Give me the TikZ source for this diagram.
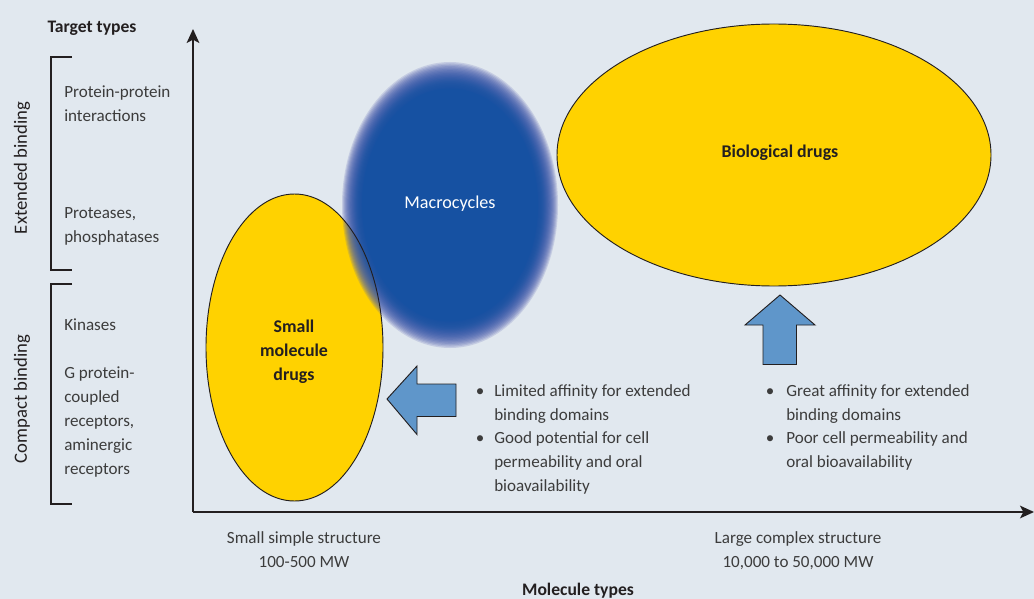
\documentclass[tikz,border=0pt]{standalone}
\usepackage{fontspec}
\setmainfont{Carlito}
\usetikzlibrary{arrows.meta}
\definecolor{bg}{HTML}{E1E8EF}
\definecolor{ylw}{HTML}{FFD200}
\definecolor{mblue}{HTML}{1651A2}
\definecolor{edgeblue}{HTML}{5560AE}
\definecolor{arrblue}{HTML}{5F96CA}
\definecolor{txt}{HTML}{3C3C3C}
\definecolor{ink}{HTML}{231F20}
\newcommand{\mlL}[1]{\begin{tabular}[t]{@{}l@{}}#1\end{tabular}}
\newcommand{\mlC}[1]{\begin{tabular}[t]{@{}c@{}}#1\end{tabular}}
\begin{document}
\begin{tikzpicture}[x=0.75pt,y=-0.75pt,
  lbl/.style={font=\fontsize{12.8}{18}\selectfont, text=txt, inner sep=0pt, anchor=base west},
  ctr/.style={font=\fontsize{12.8}{18}\selectfont, text=txt, inner sep=0pt, anchor=base},
  head/.style={font=\fontsize{13.2}{18}\selectfont\bfseries, text=ink, inner sep=0pt, anchor=base},
  side/.style={font=\fontsize{14}{18}\selectfont, text=ink, inner sep=0pt, rotate=90},
  inlbl/.style={font=\fontsize{13.4}{18}\selectfont\bfseries, text=ink, inner sep=0pt, anchor=base},
  axis/.style={draw=ink, line width=1.3pt, -{Stealth[length=10.5pt, width=9.5pt, inset=2.5pt]}},
  brk/.style={draw=ink, line width=0.95pt},
  outl/.style={draw=ink, line width=0.7pt},
  bigarrow/.style={fill=arrblue, draw=ink, line width=0.7pt, line join=miter}]
\fill[bg] (0,0) rectangle (1034,599);
\useasboundingbox (0,0) rectangle (1034,599);

% axes
\coordinate (O) at (193,512);
\coordinate (ytop) at (193,29);
\coordinate (xend) at (1034,512);
\draw[axis] (O) -- (ytop);
\draw[axis] (O) -- (xend);

% brackets
\draw[brk] (72,57) -- (51,57) -- (51,270) -- (72,270);
\draw[brk] (72,284) -- (51,284) -- (51,504) -- (72,504);

% headings
\node[head] (tt) at (92,33) {Target types};
\node[head] (mt) at (578,595) {Molecule types};
\node[side] (ext) at (22,168) {Extended binding};
\node[side] (cmp) at (22,399) {Compact binding};

% target type labels
\node[lbl] (ppi) at (64,98) {\mlL{Protein-protein\\interactions}};
\node[lbl] (prot) at (64,218) {\mlL{Proteases,\\phosphatases}};
\node[lbl] (kin) at (64,330) {Kinases};
\node[lbl] (gpcr) at (64,378) {\mlL{G protein-\\coupled\\receptors,\\aminergic\\receptors}};

% ellipses
\fill[ylw] (294.5,347.5) ellipse [x radius=88.5, y radius=153.5];
\foreach \i in {0,...,19}{
  \pgfmathsetmacro{\s}{1-\i*0.0095}
  \fill[edgeblue!\fpeval{max(0,100-8*\i)}!mblue, fill opacity=0.2] (450,205) ellipse [x radius=108*\s, y radius=143*\s];
}
\fill[mblue] (450,205) ellipse [x radius=108*0.815, y radius=143*0.815];
\draw[outl] (294.5,347.5) ellipse [x radius=88.5, y radius=153.5];
\draw[outl, fill=ylw] (774,155) ellipse [x radius=217, y radius=131];

\node[inlbl] (smd) at (294,332) {\mlC{Small\\molecule\\drugs}};
\node[font=\fontsize{13.6}{18}\selectfont, text=white, inner sep=0pt, anchor=base] (mac) at (450,208) {Macrocycles};
\node[inlbl] (bio) at (780,157) {Biological drugs};

% block arrows
\draw[bigarrow] (387,399) -- (417,366) -- (417,384) -- (456,384) -- (456,416.5) -- (417,416.5) -- (417,434.5) -- cycle;
\draw[bigarrow] (780,295) -- (815,325) -- (796.5,325) -- (796.5,364.5) -- (763,364.5) -- (763,325) -- (745,325) -- cycle;

% bullet lists
\node[lbl] (b1) at (475.5,396) {•};
\node[lbl] (l1) at (494,396) {\mlL{Limited affinity for extended\\binding domains}};
\node[lbl] (b2) at (475.5,443) {•};
\node[lbl] (l2) at (494,443) {\mlL{Good potential for cell\\permeability and oral\\bioavailability}};
\node[lbl] (b3) at (765.5,396) {•};
\node[lbl] (r1) at (786,396) {\mlL{Great affinity for extended\\binding domains}};
\node[lbl] (b4) at (765.5,443) {•};
\node[lbl] (r2) at (786,443) {\mlL{Poor cell permeability and\\oral bioavailability}};

% axis end labels
\node[ctr] (sss) at (304,543) {\mlC{Small simple structure\\100-500 MW}};
\node[ctr] (lcs) at (798,543) {\mlC{Large complex structure\\10,000 to 50,000 MW}};
\end{tikzpicture}
\end{document}
